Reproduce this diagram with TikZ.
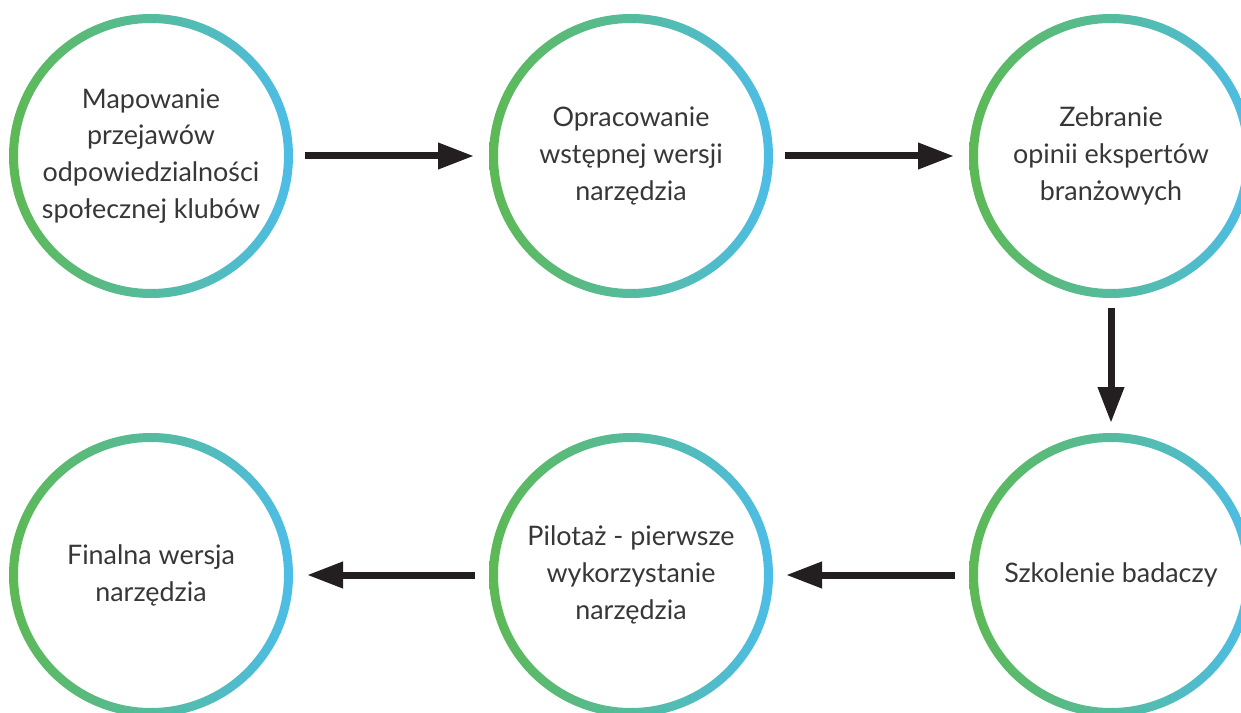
\documentclass[tikz,border=0pt]{standalone}
\usepackage{fontspec}
\setmainfont{Lato}
\usetikzlibrary{arrows.meta,positioning}
\definecolor{zielony}{RGB}{93,185,84}
\definecolor{niebieski}{RGB}{77,189,232}
\definecolor{tekst}{RGB}{55,55,55}
\definecolor{strzalka}{RGB}{35,31,32}

\begin{document}
\begin{tikzpicture}[>={Triangle[length=0.72cm,width=0.5cm]},node distance=3.92cm]
  \tikzstyle{etap}=[circle,minimum size=5.68cm,inner sep=0pt,outer sep=0pt,align=center,text=tekst,font=\fontsize{15.3}{21}\selectfont]
  \tikzstyle{strz}=[line width=0.14cm,draw=strzalka,->]
  \useasboundingbox (-3.02,3.12) rectangle (21.8,-11.14);
  \node[etap] (mapa) {Mapowanie\\przejawów\\odpowiedzialności\\społecznej klubów};
  \node[etap,right=of mapa] (wstep) {Opracowanie\\wstępnej wersji\\narzędzia};
  \node[etap,right=of wstep] (opinie) {Zebranie\\opinii ekspertów\\branżowych};
  \node[etap,below=2.7cm of opinie] (szkol) {Szkolenie badaczy};
  \node[etap,left=of szkol] (pilot) {Pilotaż - pierwsze\\wykorzystanie\\narzędzia};
  \node[etap,left=of pilot] (final) {Finalna wersja\\narzędzia};
  % pierscienie z gradientem
  \foreach \n in {mapa,wstep,opinie,szkol,pilot,final}
    \shade[even odd rule,left color=zielony,right color=niebieski] (\n.center) circle (2.84cm) circle (2.66cm);
  \draw[strz,shorten <=0.24cm,shorten >=0.3cm] (mapa) -- (wstep);
  \draw[strz,shorten <=0.24cm,shorten >=0.3cm] (wstep) -- (opinie);
  \draw[strz,shorten <=0.2cm,shorten >=0.2cm] (opinie) -- (szkol);
  \draw[strz,shorten <=0.28cm,shorten >=0.26cm] (szkol) -- (pilot);
  \draw[strz,shorten <=0.28cm,shorten >=0.28cm] (pilot) -- (final);
\end{tikzpicture}
\end{document}
